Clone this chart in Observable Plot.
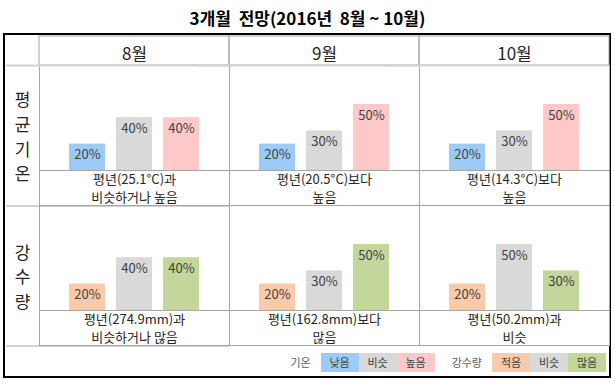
<!DOCTYPE html>
<html><head><meta charset="utf-8">
<script src="https://cdn.jsdelivr.net/npm/d3@7"></script>
<script src="https://cdn.jsdelivr.net/npm/@observablehq/plot@0.6"></script>
<style>
  body { margin: 0; background: #fff; font-family: "Noto Sans CJK KR", "Noto Sans", sans-serif; }
  #title { position: absolute; left: 0; top: 0; width: 615px; height: 33px; line-height: 36px; text-align: center;
           font-weight: bold; font-size: 17px; white-space: pre; color: #000; }
  #table { position: absolute; left: 3px; top: 33px; width: 604px; height: 341px; border: 2px solid #000; background: #fff; }
  #chart { position: absolute; left: 0; top: 0; }
  #legend { position: absolute; left: 0; top: 313px; width: 604px; height: 28px; display: flex; align-items: center;
            justify-content: flex-end; box-sizing: border-box; padding-right: 3px; font-size: 11px; }
  #legend .lab { color: #595959; margin-right: 10px; }
  #legend .lab2 { margin-left: 17px; }
  #legend .sw { display: inline-block; width: 38px; height: 19px; line-height: 19px; text-align: center; color: #404040; }
</style>
</head><body>
<div id="title">3개월  전망(2016년  8월 ~ 10월)</div>
<div id="table"><div id="chart"></div><div id="legend"></div></div>
<script>
// ---- data ----
const months = ["8월", "9월", "10월"];
const variables = ["평균기온", "강수량"];
const tempCategories = ["낮음", "비슷", "높음"];
const rainCategories = ["적음", "비슷", "많음"];
const tempAug = [20, 40, 40];
const tempSep = [20, 30, 50];
const tempOct = [20, 30, 50];
const rainAug = [20, 40, 40];
const rainSep = [20, 30, 50];
const rainOct = [20, 50, 30];
const tempNotes = ["평년(25.1°C)과\n비슷하거나 높음", "평년(20.5°C)보다\n높음", "평년(14.3°C)보다\n높음"];
const rainNotes = ["평년(274.9mm)과\n비슷하거나 많음", "평년(162.8mm)보다\n많음", "평년(50.2mm)과\n비슷"];
const legendTempLabel = "기온";
const legendRainLabel = "강수량";

// ---- styles ----
const tempColors = ["#9dcbf9", "#d9d9d9", "#ffc9c9"];
const rainColors = ["#f9cbab", "#d9d9d9", "#c3d69b"];
const GRID = "#a6a6a6";

// ---- build tables ----
const valuesBy = {"평균기온": [tempAug, tempSep, tempOct], "강수량": [rainAug, rainSep, rainOct]};
const catsBy = {"평균기온": tempCategories, "강수량": rainCategories};
const notesBy = {"평균기온": tempNotes, "강수량": rainNotes};
const bars = [];
const cells = [];
for (const v of variables) {
  months.forEach((m, mi) => {
    cells.push({variable: v, month: m, note: notesBy[v][mi]});
    valuesBy[v][mi].forEach((val, i) => {
      bars.push({variable: v, month: m, slot: i, category: catsBy[v][i], value: val, key: v + ":" + catsBy[v][i]});
    });
  });
}
const colorDomain = [...tempCategories.map(c => "평균기온:" + c), ...rainCategories.map(c => "강수량:" + c)];
const colorRange = [...tempColors, ...rainColors];

// layout
const W = 604, H = 310, MT = 29, ML = 33;
const facetH = (H - MT) / variables.length;
const baseLocal = 105, pxPerPct = 1.32;
const Y_TOP = baseLocal / pxPerPct;
const Y_BOTTOM = -(facetH - baseLocal) / pxPerPct;
const row1 = cells.filter(d => d.variable === variables[0]);
const col1 = cells.filter(d => d.month === months[0]);

const chart = Plot.plot({
  width: W, height: H,
  marginTop: MT, marginBottom: 0, marginLeft: ML, marginRight: 0,
  style: {fontFamily: '"Noto Sans CJK KR", "Noto Sans", sans-serif', background: "transparent", overflow: "visible", color: "#262626"},
  fx: {domain: months, padding: 0},
  fy: {domain: variables, padding: 0},
  x: {domain: [0, 1, 2], paddingInner: 0.225, paddingOuter: 0.616, axis: null},
  y: {domain: [0, 50], range: [MT + baseLocal, MT + baseLocal - 50 * pxPerPct], axis: null},
  color: {domain: colorDomain, range: colorRange},
  marks: [
    Plot.frame({stroke: GRID}),
    Plot.barY(row1, {fx: "month", fy: "variable", y1: () => Y_TOP, y2: () => Y_TOP, insetTop: -MT, fill: "none", stroke: GRID}),
    Plot.ruleY(col1, {fx: "month", fy: "variable", y: () => Y_BOTTOM, stroke: GRID, insetLeft: -ML}),
    Plot.ruleY(row1, {fx: "month", fy: "variable", y: () => Y_TOP, stroke: "#d4d4d4", strokeWidth: 2, insetLeft: -ML}),
    Plot.barY(bars, {fx: "month", fy: "variable", x: "slot", y: "value", fill: "key"}),
    Plot.ruleY([0], {stroke: GRID}),
    Plot.text(bars, {fx: "month", fy: "variable", x: "slot", y: "value", text: d => d.value + "%", dy: 11, fontSize: 13, fill: "#404040"}),
    Plot.text(cells, {fx: "month", fy: "variable", text: "note", frameAnchor: "bottom", lineAnchor: "middle", dy: -18, fontSize: 13, lineHeight: 1.35, fill: "#262626"}),
    Plot.axisFx({anchor: "top", tickSize: 0, tickPadding: 6, fontSize: 17, label: null}),
    Plot.axisFy({anchor: "left", tickSize: 0, tickPadding: 17, textAnchor: "middle", fontSize: 17, lineHeight: 1.45, label: null,
                 tickFormat: d => [...d].join("\n")})
  ]
});
document.getElementById("chart").appendChild(chart);

// legend (HTML, inside the table's last row)
const legend = document.getElementById("legend");
function addLabel(text, cls) {
  const s = document.createElement("span"); s.className = cls; s.textContent = text; legend.appendChild(s);
}
function addSwatches(vname, cats) {
  cats.forEach(c => {
    const s = document.createElement("span"); s.className = "sw";
    s.style.background = colorRange[colorDomain.indexOf(vname + ":" + c)];
    s.textContent = c; legend.appendChild(s);
  });
}
addLabel(legendTempLabel, "lab");
addSwatches("평균기온", tempCategories);
addLabel(legendRainLabel, "lab lab2");
addSwatches("강수량", rainCategories);
</script>
</body></html>
